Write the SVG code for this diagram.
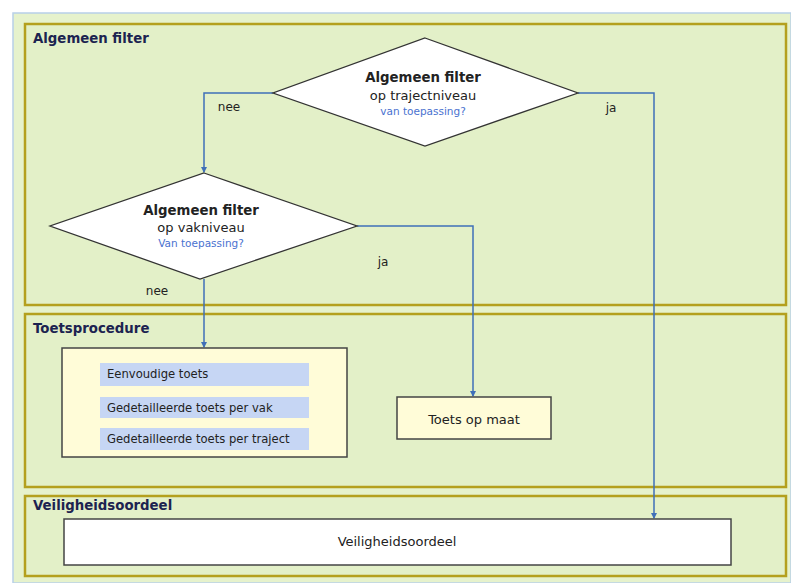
<svg xmlns="http://www.w3.org/2000/svg" width="791" height="583" viewBox="0 0 791 583">
<style>
.panel{fill:#e3f0c8;stroke:#b4a01e;stroke-width:2.5}
.title{font-family:"DejaVu Sans",Verdana,sans-serif;font-weight:bold;font-size:13.3px;fill:#1c2350}
.dia{fill:#ffffff;stroke:#333333;stroke-width:1.3}
.t{font-family:"DejaVu Sans",Verdana,sans-serif;fill:#222222;text-anchor:middle}
.b{font-weight:bold;font-size:13.3px}
.r{font-size:13px}
.q{font-size:10.5px;fill:#4a72d0}
.box{fill:#fffcd8;stroke:#444444;stroke-width:1.5}
.bar{fill:#c6d6f4}
.bt{font-family:"DejaVu Sans",Verdana,sans-serif;font-size:11.6px;fill:#222222}
.conn{fill:none;stroke:#3f6fb8;stroke-width:1.5}
.lbl{font-family:"DejaVu Sans",Verdana,sans-serif;font-size:12px;fill:#222222;text-anchor:middle}
</style>
<defs>
<marker id="arr" viewBox="0 0 6 6" refX="5" refY="3" markerWidth="4" markerHeight="4" orient="auto">
<path d="M0,0 L6,3 L0,6 z" fill="#3f6fb8"/>
</marker>
</defs>
<rect x="0" y="0" width="791" height="583" fill="#ffffff"/>
<rect x="13" y="13" width="778" height="570" fill="#e6f2cc" stroke="#b8d0e8" stroke-width="1.5"/>
<g id="panel-algemeen">
<rect class="panel" x="25" y="24" width="761" height="281"/>
<text class="title" x="33" y="43">Algemeen filter</text>
</g>
<g id="panel-toets">
<rect class="panel" x="25" y="314" width="761" height="173"/>
<text class="title" x="33" y="333">Toetsprocedure</text>
</g>
<g id="panel-veilig">
<rect class="panel" x="25" y="496" width="761" height="80"/>
<text class="title" x="33" y="510">Veiligheidsoordeel</text>
</g>
<g id="connectors">
<polyline class="conn" points="273,93 204,93 204,172" marker-end="url(#arr)"/>
<polyline class="conn" points="578,93 654,93 654,518" marker-end="url(#arr)"/>
<polyline class="conn" points="357,226 473,226 473,396" marker-end="url(#arr)"/>
<polyline class="conn" points="204,279 204,347" marker-end="url(#arr)"/>
<text class="lbl" x="229" y="111">nee</text>
<text class="lbl" x="611" y="112">ja</text>
<text class="lbl" x="383" y="266">ja</text>
<text class="lbl" x="157" y="295">nee</text>
</g>
<g id="diamond-traject">
<polygon class="dia" points="425,38 578,93 425,146 273,93"/>
<text class="t b" x="423" y="82">Algemeen filter</text>
<text class="t r" x="423" y="100">op trajectniveau</text>
<text class="t q" x="423" y="115">van toepassing?</text>
</g>
<g id="diamond-vak">
<polygon class="dia" points="204,173 357,226 200,279 50,226"/>
<text class="t b" x="201" y="215">Algemeen filter</text>
<text class="t r" x="201" y="232">op vakniveau</text>
<text class="t q" x="201" y="247">Van toepassing?</text>
</g>
<g id="box-toetsprocedure">
<rect class="box" x="62" y="348" width="285" height="109"/>
<rect class="bar" x="100" y="363" width="209" height="23"/>
<rect class="bar" x="100" y="397" width="209" height="21"/>
<rect class="bar" x="100" y="428" width="209" height="22"/>
<text class="bt" x="107" y="378">Eenvoudige toets</text>
<text class="bt" x="107" y="412">Gedetailleerde toets per vak</text>
<text class="bt" x="107" y="443">Gedetailleerde toets per traject</text>
</g>
<g id="box-maat">
<rect class="box" x="397" y="397" width="154" height="42"/>
<text class="t r" x="474" y="424">Toets op maat</text>
</g>
<g id="box-veilig">
<rect x="64" y="519" width="667" height="46" fill="#ffffff" stroke="#444444" stroke-width="1.5"/>
<text class="t r" x="397" y="546">Veiligheidsoordeel</text>
</g>
</svg>
